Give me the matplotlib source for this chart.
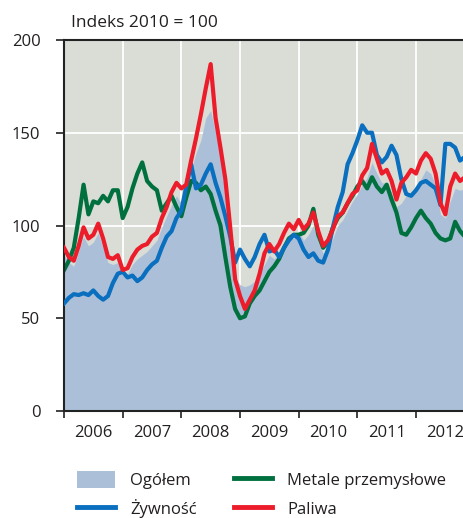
import matplotlib
matplotlib.use("Agg")
import matplotlib.pyplot as plt
import pandas as pd
from matplotlib.patches import Patch
from matplotlib.lines import Line2D

plt.rcParams["font.family"] = ["Open Sans", "DejaVu Sans"]

# -------------------------
# Data: monthly readings, Jan 2006 - Nov 2012 (indeks 2010 = 100)
# -------------------------
months = pd.date_range("2006-01-01", "2012-11-01", freq="MS")

ogolem = [
    84, 80, 78, 86, 94, 89, 91, 96, 88, 80, 79, 80,            # 2006
    73, 74, 79, 82, 84, 86, 89, 92, 99, 105, 111, 116,         # 2007
    112, 115, 130, 139, 146, 158, 162, 150, 137, 116, 92, 72,  # 2008
    68, 67, 68, 70, 74, 79, 84, 82, 85, 89, 93, 93,            # 2009
    97, 92, 95, 100, 91, 85, 87, 93, 100, 103, 108, 113,       # 2010
    117, 122, 126, 134, 128, 123, 123, 118, 110, 112, 116, 118,  # 2011
    119, 125, 130, 128, 122, 106, 104, 113, 120, 119, 120,     # 2012
]
zywnosc = [
    58, 61, 63, 62.5, 63.5, 62.5, 65, 62, 60, 62, 69, 74,
    75, 72, 73, 70, 72, 76, 79, 81, 88, 94, 97, 104,
    108, 121, 133, 120, 122, 128, 133, 123, 115, 105, 94, 80,
    87, 82, 78, 83, 90, 95, 86, 87, 83, 88, 92, 95,
    93, 87, 83, 85, 81, 80, 87, 99, 110, 118, 133, 139,
    146, 154, 150, 150, 138, 134, 137, 143, 138, 125, 117, 116,
    119, 123, 124, 122, 120, 111, 144, 144, 142, 135, 137,
]
metale = [
    76, 81, 88, 104, 122, 106, 113, 112, 116, 113, 119, 119,
    104, 110, 120, 128, 134, 124, 121, 119, 108, 112, 116, 110,
    105, 115, 124, 123, 119, 121, 117, 108, 100, 83, 67, 55,
    50, 51, 58, 62, 65, 70, 75, 78, 82, 88, 93, 95,
    95, 96, 100, 109, 95, 88, 91, 99, 104, 107, 112, 116,
    121, 124, 120, 126, 121, 118, 122, 114, 107, 96, 95, 99,
    104, 108, 104, 101, 96, 93, 92, 93, 102, 97, 94,
]
paliwa = [
    88, 83, 81, 89, 99, 93, 95, 101, 93, 83, 82, 84,
    76, 77, 83, 87, 89, 90, 94, 96, 104, 110, 118, 123,
    120, 122, 135, 147, 160, 174, 187, 158, 142, 125, 99, 71,
    62, 55, 60, 65, 74, 85, 90, 86, 90, 96, 101, 98,
    103, 98, 101, 107, 97, 89, 92, 98, 105, 107, 112, 117,
    119, 127, 131, 144, 136, 128, 130, 124, 114, 123, 126, 130,
    128, 135, 139, 136, 128, 112, 106, 121, 128, 124, 126,
]

year_ticks = [2006, 2007, 2008, 2009, 2010, 2011, 2012]
y_ticks = [0, 50, 100, 150, 200]

labels = ["Ogółem", "Żywność", "Metale przemysłowe", "Paliwa"]
c_area = "#abc0d8"
c_blue = "#0a6fbe"
c_green = "#00703e"
c_red = "#ec1c2b"
c_text = "#231f20"

# decimal years for the x axis
t = months.year + (months.month - 1) / 12.0

fig = plt.figure(figsize=(4.64, 5.18), dpi=100)
ax = fig.add_axes([64 / 464, 107 / 518, 400 / 464, 371 / 518])
ax.set_facecolor("#d9ddd6")

ax.fill_between(t, ogolem, 0, color=c_area, lw=0, zorder=1)
ax.plot(t, metale, color=c_green, lw=3, zorder=2)
ax.plot(t, zywnosc, color=c_blue, lw=3, zorder=3)
ax.plot(t, paliwa, color=c_red, lw=3, zorder=4)

ax.set_xlim(2006, 2006 + 400 / 58.67)
ax.set_ylim(0, 200)

# grid (white, under the area)
ax.set_axisbelow(True)
ax.set_yticks(y_ticks)
ax.set_xticks(year_ticks)
ax.set_xticklabels([])
ax.set_xticks([y + 0.5 for y in year_ticks], minor=True)
ax.set_xticklabels([str(y) for y in year_ticks], minor=True)
ax.grid(True, which="major", color="white", lw=1.3)

ax.tick_params(axis="y", direction="out", length=6, width=1.3, color="#333333",
               labelsize=12, labelcolor=c_text, pad=11)
ax.tick_params(axis="x", which="major", direction="out", length=5, width=1.3,
               color="#333333")
ax.tick_params(axis="x", which="minor", length=0, labelsize=12,
               labelcolor=c_text, pad=10)

for side in ["left", "top", "bottom"]:
    ax.spines[side].set_color("#222222")
    ax.spines[side].set_linewidth(1.5)
ax.spines["right"].set_visible(False)

fig.text(71 / 464, 1 - 23 / 518, "Indeks 2010 = 100", fontsize=12.5,
         color=c_text, va="center", ha="left")

handles = [
    Patch(facecolor=c_area, edgecolor="none"),
    Line2D([], [], color=c_blue, lw=3.5),
    Line2D([], [], color=c_green, lw=3.5),
    Line2D([], [], color=c_red, lw=3.5),
]
leg = fig.legend(handles, labels, ncol=2, loc="upper left",
                 bbox_to_anchor=(77 / 464, 1 - 471 / 518), frameon=False,
                 borderpad=0, borderaxespad=0, handlelength=2.3,
                 handleheight=1.2, handletextpad=0.9, columnspacing=2.2,
                 labelspacing=0.62, fontsize=12)
for txt in leg.get_texts():
    txt.set_color(c_text)

fig.savefig("out.png", dpi=100)
